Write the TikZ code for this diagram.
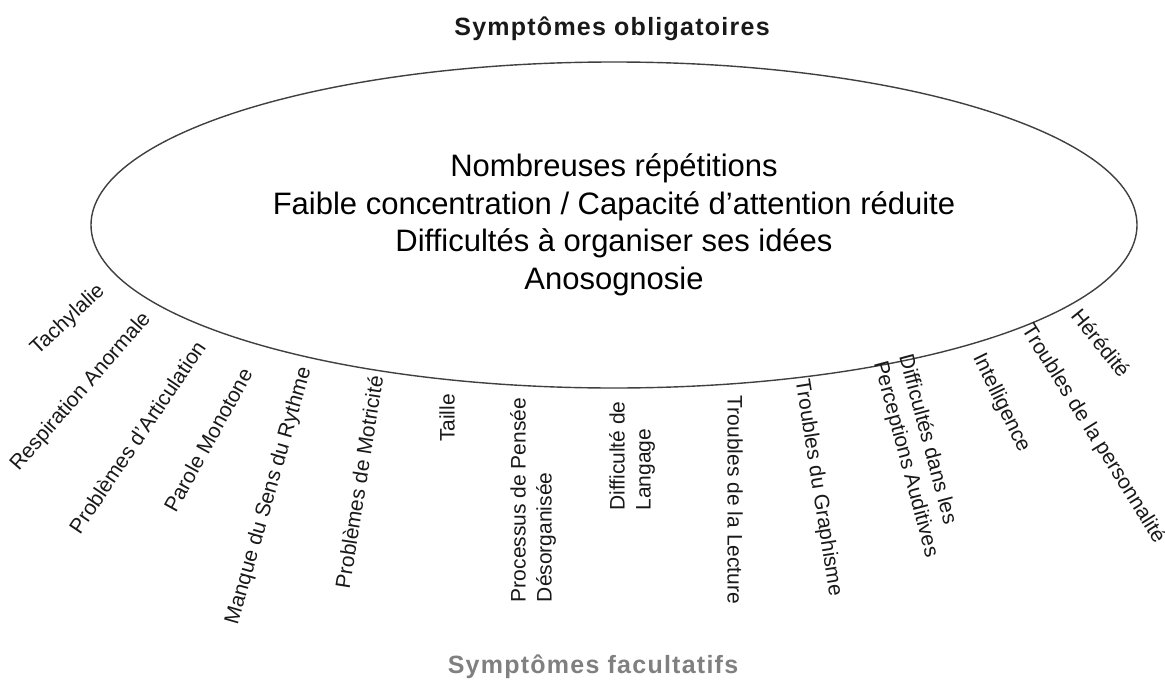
\documentclass[tikz,border=0pt]{standalone}
\usepackage{fontspec}
\setmainfont{Liberation Sans}
\newfontfamily\titlefont[LetterSpace=5]{Liberation Sans}
\usetikzlibrary{shapes.geometric}
\begin{document}
\begin{tikzpicture}[x=1pt,y=-1pt,
  lab/.style={font=\fontsize{21}{26}\selectfont, align=left, inner sep=0pt, text=black!90},
  ttl/.style={anchor=base, font=\titlefont\bfseries\fontsize{25}{30}\selectfont},
  core/.style={ellipse, draw=black!75, line width=1.4pt, minimum width=1046pt, minimum height=326pt, inner sep=0pt, font=\fontsize{31}{37.5}\selectfont, align=center}
]
\useasboundingbox (0,0) rectangle (1165,680);
\fill[white] (0,0) rectangle (1165,680);
\node[core] (core) at (614,225) {Nombreuses répétitions\\Faible concentration / Capacité d’attention réduite\\Difficultés à organiser ses idées\\Anosognosie};
\node[ttl, text=black!90] (top) at (612,35) {Symptômes obligatoires};
\node[ttl, text=black!50] (bottom) at (593,673) {Symptômes facultatifs};
\node[lab, rotate=43] (l1) at (68,320) {Tachylalie};
\node[lab, rotate=49] (l2) at (81,392) {Respiration Anormale};
\node[lab, rotate=56] (l3) at (137,437) {Problèmes d'Articulation};
\node[lab, rotate=61] (l4) at (208,440) {Parole Monotone};
\node[lab, rotate=74] (l5) at (269,496) {Manque du Sens du Rythme};
\node[lab, rotate=81] (l6) at (359,482) {Problèmes de Motricité};
\node[lab, rotate=90] (l7) at (447,418) {Taille};
\node[lab, rotate=90] (l8) at (533,500) {Processus de Pensée\\Désorganisée};
\node[lab, rotate=90] (l9) at (632,456) {Difficulté de\\Langage};
\node[lab, rotate=-90] (l10) at (735,500) {Troubles de la Lecture};
\node[lab, rotate=-81] (l11) at (818,488) {Troubles du Graphisme};
\node[lab, rotate=-75] (l12) at (918,456) {Difficultés dans les\\Perceptions Auditives};
\node[lab, rotate=-64] (l13) at (1001,403) {Intelligence};
\node[lab, rotate=-58] (l14) at (1093,434) {Troubles de la personnalité};
\node[lab, rotate=-51] (l15) at (1101,343) {Hérédité};
\end{tikzpicture}
\end{document}
